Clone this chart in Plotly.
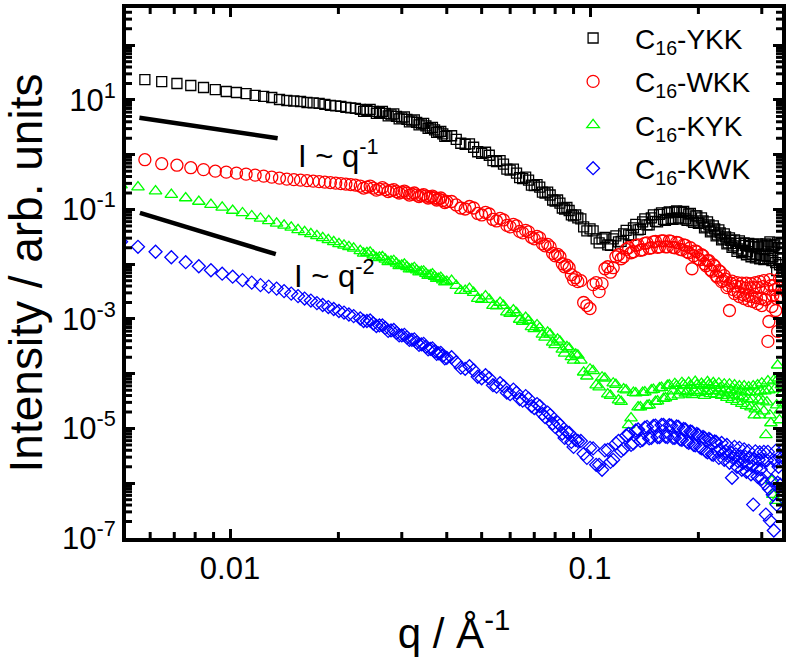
import plotly.graph_objects as go

# ---------------- data ----------------
q_low_a = [0.0058, 0.00646, 0.00712, 0.00778, 0.00844, 0.0091, 0.00976, 0.01042, 0.01108,
           0.01174, 0.0124, 0.01306, 0.01372, 0.01438, 0.01504, 0.0157, 0.01636, 0.01702,
           0.01768, 0.01834, 0.019, 0.01966, 0.02032, 0.02098, 0.02164, 0.0223]
q_low_b = [0.00498, 0.00555, 0.00621, 0.00687, 0.00753, 0.00819, 0.00885, 0.00951, 0.01017,
           0.01083, 0.01149, 0.01215, 0.01281, 0.01347, 0.01413, 0.01479, 0.01545, 0.01611,
           0.01677, 0.01743, 0.01809, 0.01875, 0.01941, 0.02007, 0.02073, 0.02139, 0.02205]
q_high = [0.023, 0.024, 0.025, 0.026, 0.027, 0.028, 0.029, 0.030, 0.031, 0.032, 0.033, 0.034,
          0.035, 0.036, 0.037, 0.038, 0.039, 0.040,
          0.0425, 0.045, 0.0475, 0.050, 0.0525, 0.055, 0.0575, 0.060, 0.0625, 0.065, 0.0675,
          0.070, 0.0725, 0.075, 0.0775, 0.080, 0.0825, 0.085, 0.0875, 0.090, 0.0925,
          0.096, 0.100, 0.104, 0.108, 0.112, 0.116, 0.120, 0.124, 0.128, 0.132, 0.136, 0.140,
          0.144, 0.148, 0.152, 0.156, 0.160, 0.164, 0.168, 0.172, 0.176, 0.180, 0.184, 0.188,
          0.192, 0.196, 0.200, 0.204, 0.208, 0.212, 0.216, 0.220, 0.224, 0.228, 0.232, 0.236,
          0.240, 0.244, 0.248, 0.252, 0.256, 0.260, 0.264, 0.268, 0.272, 0.276, 0.280, 0.284,
          0.288, 0.292, 0.296, 0.300, 0.304, 0.308, 0.312, 0.316, 0.320, 0.324, 0.328, 0.332,
          0.336, 0.340, 0.344]
q_extra = [0.0235, 0.0245, 0.0255, 0.0265, 0.0275, 0.0285, 0.0295, 0.0305, 0.0315, 0.0325,
           0.0335, 0.0345, 0.0355, 0.0365, 0.0375, 0.0385, 0.0395,
           0.04125, 0.04375, 0.04625, 0.04875, 0.05125, 0.05375, 0.05625, 0.05875, 0.06125,
           0.06375, 0.06625, 0.06875, 0.07125, 0.07375, 0.07625, 0.07875, 0.08125, 0.08375,
           0.08625, 0.08875, 0.09125,
           0.0943, 0.098, 0.102, 0.106, 0.110, 0.114, 0.118, 0.122, 0.126, 0.130, 0.134, 0.138,
           0.142, 0.146, 0.150, 0.154, 0.158, 0.162, 0.166, 0.170, 0.174, 0.178, 0.182, 0.186,
           0.190, 0.194, 0.198, 0.202, 0.206, 0.210, 0.214, 0.218, 0.222, 0.226, 0.230, 0.234,
           0.238, 0.242, 0.246, 0.250, 0.254, 0.258, 0.262, 0.266, 0.270, 0.274, 0.278, 0.282,
           0.286, 0.290, 0.294, 0.298, 0.302, 0.306, 0.310, 0.314, 0.318, 0.322, 0.326, 0.330,
           0.334, 0.338, 0.342]

I_ykk = [23.6, 21.7, 20.0, 18.4, 16.9, 15.5, 14.3, 13.7, 13.1, 12.1, 11.6, 11.1, 10.2, 9.79,
         9.59, 9.39, 9.0, 8.82, 8.64, 8.28, 7.94, 7.78, 7.62, 7.31, 7.15, 7.0,
         6.72, 6.44, 6.18, 5.93, 5.68, 5.34, 5.01, 4.71, 4.42, 4.15, 3.90, 3.66, 3.37, 3.10,
         2.85, 2.62, 2.41, 2.22,
         1.91, 1.55, 1.37, 1.065, 0.979, 0.746, 0.672, 0.523, 0.461, 0.366, 0.344, 0.273,
         0.257, 0.200, 0.184, 0.143, 0.131, 0.102, 0.0959, 0.0762, 0.070,
         0.0481, 0.0442, 0.0291, 0.0291, 0.0226, 0.0291, 0.0257, 0.0359, 0.0344, 0.0461,
         0.0424, 0.0593, 0.0523, 0.0700, 0.0605, 0.0811, 0.0658, 0.0864, 0.0686, 0.0900,
         0.0700, 0.0882, 0.0672, 0.0828, 0.0618, 0.0762, 0.0557, 0.0700, 0.0461, 0.0593,
         0.0390, 0.0501, 0.0330, 0.0424, 0.0279, 0.0359, 0.0236, 0.0303, 0.0204, 0.0279,
         0.0172, 0.0268, 0.0162, 0.0246, 0.0149, 0.0241, 0.0137, 0.0231, 0.0131, 0.0236,
         0.0126, 0.0226, 0.0121, 0.0236, 0.0126, 0.0257, 0.0116, 0.0217, 0.0107, 0.0246,
         0.00979, 0.0200, 0.00762]
I_ykk_extra = [6.18, 6.72, 5.68, 6.18, 5.12, 5.57, 4.51, 4.91, 3.98, 4.33, 3.51, 3.74, 3.03,
               3.16, 2.57, 2.68, 2.17,
               2.22, 1.62, 1.585, 1.134, 1.11, 0.778, 0.778, 0.545, 0.545, 0.382, 0.390, 0.279,
               0.285, 0.208, 0.208, 0.149, 0.149, 0.1065, 0.1087, 0.0794, 0.0794,
               0.0672, 0.0407, 0.0407, 0.0246, 0.0310, 0.0222, 0.0330, 0.0262, 0.0415, 0.0337,
               0.0534, 0.0433, 0.0672, 0.0523, 0.0794, 0.0593, 0.0864, 0.0631, 0.0900, 0.0658,
               0.0939, 0.0672, 0.0920, 0.0631, 0.0846, 0.0580, 0.0762,
               0.0568, 0.0618, 0.0481, 0.0523, 0.0407, 0.0442, 0.0344, 0.0374, 0.0291, 0.0316,
               0.0246, 0.0273, 0.0217, 0.0241, 0.0191, 0.0241, 0.0180, 0.0222, 0.0169, 0.0213,
               0.0155, 0.0208, 0.0149, 0.0208, 0.0143, 0.0217, 0.0143, 0.0217, 0.0137, 0.0226,
               0.0137, 0.0226, 0.00762, 0.0200, 0.0126, 0.0191]

I_wkk = [0.811, 0.686, 0.644, 0.580, 0.534, 0.501, 0.481, 0.461, 0.442, 0.424, 0.407, 0.390,
         0.374, 0.359, 0.351, 0.344, 0.337, 0.330, 0.323, 0.316, 0.310, 0.303, 0.297, 0.291,
         0.285, 0.279,
         0.268, 0.257, 0.246, 0.236, 0.231, 0.222, 0.2125, 0.208, 0.200, 0.191, 0.1835, 0.180,
         0.176, 0.169, 0.162, 0.155, 0.146, 0.140,
         0.121, 0.102, 0.1065, 0.0794, 0.0828, 0.0618, 0.0644, 0.0481, 0.0501, 0.0374, 0.0390,
         0.0291, 0.0303, 0.0217, 0.0208, 0.0143, 0.0137, 0.0090, 0.00864, 0.00523, 0.00481,
         0.00200, 0.00155, 0.00461, 0.00442, 0.0090, 0.00864, 0.0149, 0.0137, 0.0200, 0.0169,
         0.0226, 0.0184, 0.0246, 0.0200, 0.0262, 0.0208, 0.0268, 0.0208, 0.0262, 0.0200,
         0.0246, 0.0184, 0.0222, 0.0162, 0.00828, 0.0176, 0.0126, 0.0149, 0.0102, 0.0116,
         0.00794, 0.00979, 0.00618, 0.00762, 0.00481, 0.00618, 0.00374, 0.00143, 0.00491, 0.00291,
         0.00461, 0.00257, 0.00451, 0.00236, 0.00451, 0.00217, 0.00442, 0.00208, 0.00461, 0.00191,
         0.00481, 0.00176, 0.00501, 0.00226, 0.000390, 0.00523, 0.00169, 0.00407, 0.00143,
         0.000593, 0.00545, 0.00268, 0.00762]
I_wkk_extra = [0.246, 0.268, 0.226, 0.251, 0.2125, 0.231, 0.200, 0.217, 0.1835, 0.200, 0.172,
               0.187, 0.162, 0.176, 0.149, 0.162, 0.134,
               0.140, 0.1065, 0.1134, 0.0846, 0.0882, 0.0658, 0.0686, 0.0512, 0.0534, 0.0398,
               0.0415, 0.0310, 0.0323, 0.0236, 0.0231, 0.01585, 0.0152, 0.0102, 0.00959,
               0.00644, 0.00568,
               0.00501, 0.00176, 0.00424, 0.00316, 0.00828, 0.00715, 0.0137, 0.0126, 0.0187,
               0.0162, 0.0222, 0.0180, 0.0241, 0.0195, 0.0257, 0.0204, 0.0268, 0.0208, 0.0268,
               0.0204, 0.0251, 0.0187, 0.0226, 0.0169, 0.0200, 0.0143, 0.0169, 0.0121, 0.0143,
               0.00939, 0.0116, 0.00746, 0.00920, 0.00580, 0.00731,
               0.00501, 0.00534, 0.00407, 0.00451, 0.00344, 0.00398, 0.00310, 0.00390, 0.00279,
               0.00366, 0.00268, 0.00374, 0.00257, 0.00374, 0.00246, 0.00374, 0.00236, 0.00390,
               0.00226, 0.00359, 0.00090, 0.00407, 0.00268, 0.00344, 0.00236, 0.00374, 0.00257,
               0.00390]

I_kyk = [0.279, 0.257, 0.217, 0.187, 0.162, 0.140, 0.123, 0.109, 0.0959, 0.0864, 0.0762, 0.0686,
         0.0618, 0.0557, 0.0512, 0.0471, 0.0424, 0.0390, 0.0359, 0.0330, 0.0303, 0.0279, 0.0257,
         0.0236, 0.0222, 0.0208, 0.0195,
         0.0176, 0.0162, 0.0146, 0.0134, 0.0123, 0.0113, 0.0104, 0.00959, 0.0090, 0.00828,
         0.00778, 0.00731, 0.00672, 0.00631, 0.00593, 0.00545, 0.00512, 0.00481,
         0.00407, 0.00330, 0.00303, 0.00226, 0.00226, 0.00172, 0.00176, 0.00126, 0.00129,
         0.00090, 0.000939, 0.000658, 0.000686, 0.000461, 0.000523, 0.000337, 0.000390,
         0.000236, 0.000291, 0.000176, 0.000217,
         1.065e-4, 1.21e-4, 6.18e-5, 8.64e-5, 4.24e-5, 6.72e-5, 3.30e-5, 5.23e-5, 1.16e-5, 4.51e-5,
         2.46e-5, 4.51e-5, 2.62e-5, 5.01e-5, 3.10e-5, 5.45e-5, 3.51e-5, 6.05e-5, 3.82e-5, 6.58e-5,
         4.07e-5, 6.86e-5, 4.4e-5, 6.9e-5, 4.1e-5, 7.2e-5, 4.5e-5, 6.6e-5, 4.0e-5, 7.1e-5,
         4.3e-5, 6.8e-5, 4.15e-5, 6.72e-5, 3.98e-5, 6.44e-5, 3.66e-5, 6.44e-5, 3.37e-5, 6.18e-5,
         3.10e-5, 5.93e-5, 2.85e-5, 5.93e-5, 2.62e-5, 5.68e-5, 2.46e-5, 5.93e-5, 2.26e-5, 6.18e-5,
         1.76e-5, 6.72e-5, 2.08e-5, 7.62e-6, 7.31e-5, 1.76e-5, 1.11e-6, 7.62e-5, 4.81e-7, 1.43e-4,
         1.43e-5, 6.18e-5, 2.91e-5]
I_kyk_extra = [0.01585, 0.01653, 0.0131, 0.0137, 0.0111, 0.0116, 0.00939, 0.0100, 0.00811,
               0.00864, 0.00715, 0.00746, 0.00618, 0.00658, 0.00545, 0.00568, 0.00471,
               0.00501, 0.00330, 0.00359, 0.00236, 0.00262, 0.00176, 0.00200, 0.00134, 0.00146,
               0.000979, 0.001065, 0.000715, 0.000778, 0.000523, 0.000568, 0.000374, 0.000424,
               0.000279, 0.000310, 0.000204, 0.000226,
               1.76e-4, 9.0e-5, 1.13e-4, 5.68e-5, 8.28e-5, 3.98e-5, 6.31e-5, 3.10e-5, 5.01e-5,
               1.55e-5, 4.42e-5, 2.46e-5, 4.61e-5, 2.68e-5, 5.12e-5, 3.16e-5, 5.57e-5, 3.59e-5,
               6.2e-5, 4.8e-5, 6.0e-5, 4.9e-5, 6.3e-5, 4.7e-5, 6.1e-5, 4.9e-5, 6.2e-5, 4.8e-5,
               6.0e-5, 4.7e-5, 6.3e-5, 4.9e-5, 6.1e-5,
               4.81e-5, 5.45e-5, 4.61e-5, 5.23e-5, 4.42e-5, 5.01e-5, 4.07e-5, 5.01e-5, 3.90e-5,
               4.81e-5, 3.74e-5, 4.61e-5, 3.44e-5, 4.61e-5, 3.44e-5, 1.76e-5, 4.61e-5, 3.30e-5,
               4.81e-5, 3.16e-5, 4.81e-5, 3.03e-5, 5.01e-5, 1.26e-5, 6.18e-7, 5.23e-5, 2.68e-5,
               8.28e-5, 2.17e-5, 4.42e-5]

I_kwk = [0.0257, 0.0208, 0.0169, 0.0134, 0.0109, 0.00920, 0.00778, 0.00672, 0.00593, 0.00512,
         0.00461, 0.00415, 0.00390, 0.00359, 0.00323, 0.00291, 0.00262, 0.00236, 0.00217,
         0.00195, 0.00180, 0.00165, 0.00152, 0.00140, 0.00131, 0.00121, 0.00113,
         0.00102, 9.20e-4, 8.28e-4, 7.62e-4, 6.86e-4, 6.18e-4, 5.57e-4, 5.01e-4, 4.61e-4,
         4.15e-4, 3.74e-4, 3.44e-4, 3.10e-4, 2.85e-4, 2.57e-4, 2.36e-4, 2.13e-4, 1.95e-4,
         1.62e-4, 1.23e-4, 1.16e-4, 8.28e-5, 8.28e-5, 5.80e-5, 5.93e-5, 4.24e-5, 4.51e-5,
         3.23e-5, 3.51e-5, 2.36e-5, 2.57e-5, 1.62e-5, 1.76e-5, 1.07e-5, 1.16e-5, 6.72e-6,
         8.28e-6, 4.61e-6, 5.93e-6,
         3.44e-6, 4.42e-6, 2.17e-6, 1.76e-6, 4.07e-6, 2.68e-6, 5.93e-6, 4.24e-6, 7.94e-6, 5.34e-6,
         9.59e-6, 6.18e-6, 1.07e-5, 6.72e-6, 1.13e-5, 7.0e-6, 1.16e-5, 7.0e-6, 1.13e-5, 6.72e-6,
         1.07e-5, 6.18e-6, 9.59e-6, 5.45e-6, 8.64e-6, 4.91e-6, 7.62e-6, 4.33e-6, 6.72e-6, 3.66e-6,
         6.18e-6, 3.30e-6, 5.68e-6, 2.91e-6, 5.45e-6, 2.68e-6, 5.01e-6, 2.36e-6, 1.26e-6, 4.61e-6,
         2.0e-6, 4.42e-6, 1.76e-6, 4.15e-6, 1.62e-6, 3.90e-6, 1.46e-6, 4.07e-7, 3.82e-6, 1.31e-6,
         3.66e-6, 1.21e-6, 3.74e-6, 2.68e-7, 3.74e-6, 2.08e-7, 1.11e-6, 1.37e-7, 3.90e-6, 1.02e-6,
         3.03e-6, 7.62e-7, 4.07e-6]
I_kwk_extra = [9.20e-4, 9.39e-4, 7.46e-4, 7.62e-4, 6.05e-4, 6.31e-4, 5.01e-4, 5.12e-4, 4.15e-4,
               4.24e-4, 3.37e-4, 3.51e-4, 2.79e-4, 2.91e-4, 2.31e-4, 2.41e-4, 1.91e-4,
               2.0e-4, 1.29e-4, 1.37e-4, 8.82e-5, 9.39e-5, 6.18e-5, 6.72e-5, 4.51e-5, 5.12e-5,
               3.44e-5, 3.90e-5, 2.57e-5, 2.79e-5, 1.84e-5, 1.95e-5, 1.23e-5, 1.29e-5, 8.11e-6,
               8.64e-6, 5.68e-6, 6.18e-6,
               5.93e-6, 2.91e-6, 4.33e-6, 2.17e-6, 3.98e-6, 2.46e-6, 5.34e-6, 3.90e-6, 7.46e-6,
               5.01e-6, 9.20e-6, 5.93e-6, 1.04e-5, 6.58e-6, 1.11e-5, 7.0e-6, 1.16e-5, 7.1e-6,
               1.15e-5, 6.72e-6, 1.09e-5, 6.31e-6, 9.79e-6, 5.68e-6, 8.82e-6, 5.01e-6, 7.94e-6,
               4.51e-6, 7.0e-6, 3.82e-6, 6.44e-6, 3.37e-6, 5.80e-6,
               3.82e-6, 4.15e-6, 3.51e-6, 3.82e-6, 3.10e-6, 3.66e-6, 2.85e-6, 3.37e-6, 2.51e-6,
               3.10e-6, 2.36e-6, 3.03e-6, 2.13e-6, 2.91e-6, 2.04e-6, 2.79e-6, 1.87e-6, 2.68e-6,
               1.80e-6, 2.68e-6, 9.79e-7, 2.62e-6, 7.94e-7, 1.91e-6, 6.18e-7, 2.57e-6, 4.07e-7,
               2.0e-6, 9.39e-7, 2.57e-6]

series_names = ["C<sub>16</sub>-YKK", "C<sub>16</sub>-WKK", "C<sub>16</sub>-KYK", "C<sub>16</sub>-KWK"]
series_colors = ["#000000", "#ff0000", "#00ff00", "#0000ff"]
series_symbols = ["square-open", "circle-open", "triangle-up-open", "diamond-open"]
series_sizes = [10, 12, 11, 10]

# power-law guide lines (I ~ q^-1 and I ~ q^-2)
guide1_q = [0.0056, 0.01356]
guide1_I = [4.75, 2.0]
guide2_q = [0.00562, 0.0134]
guide2_I = [0.0864, 0.0153]
guide_labels = ["I ~ q<sup>-1</sup>", "I ~ q<sup>-2</sup>"]

x_tickvals = [0.01, 0.1]
x_ticktext = ["0.01", "0.1"]
x_minor = [0.006, 0.007, 0.008, 0.009, 0.02, 0.03, 0.04, 0.05, 0.06, 0.07, 0.08, 0.09, 0.2, 0.3]
y_tickvals = [1e-7, 1e-6, 1e-5, 1e-4, 1e-3, 1e-2, 1e-1, 1, 10, 100]
y_ticktext = ["10<sup>-7</sup>", "", "10<sup>-5</sup>", "", "10<sup>-3</sup>", "",
              "10<sup>-1</sup>", "", "10<sup>1</sup>", ""]
y_minor = [m * 10.0 ** e for e in range(-7, 3) for m in range(2, 10) if m * 10.0 ** e < 470]

FONT = "Liberation Sans, Arial, sans-serif"
X_RANGE = [-2.289, -0.4667]
Y_RANGE = [-7, 2.68]
MARGIN = dict(l=126, r=10, t=8, b=122)
W, H = 792, 660
MINOR_LEN_PX = 6

q_all = [q_low_a + q_high + q_extra, q_low_a + q_high + q_extra,
         q_low_b + q_high + q_extra, q_low_b + q_high + q_extra]
I_all = [I_ykk + I_ykk_extra, I_wkk + I_wkk_extra, I_kyk + I_kyk_extra, I_kwk + I_kwk_extra]

fig = go.Figure()
for i in range(4):
    fig.add_trace(go.Scatter(
        x=q_all[i], y=I_all[i], mode="markers", name=series_names[i],
        legendgroup=str(i),
        marker=dict(symbol=series_symbols[i], size=series_sizes[i],
                    color=series_colors[i], line=dict(width=1.3, color=series_colors[i])),
    ))

for gq, gi in [(guide1_q, guide1_I), (guide2_q, guide2_I)]:
    fig.add_trace(go.Scatter(x=gq, y=gi, mode="lines", showlegend=False,
                             line=dict(color="black", width=4.5), hoverinfo="skip"))

# minor tick marks on all four sides (inside), built from the minor tick value lists
plot_w = W - MARGIN["l"] - MARGIN["r"]
plot_h = H - MARGIN["t"] - MARGIN["b"]
dx = MINOR_LEN_PX * (X_RANGE[1] - X_RANGE[0]) / plot_w   # tick length in decades (x)
dy = MINOR_LEN_PX * (Y_RANGE[1] - Y_RANGE[0]) / plot_h   # tick length in decades (y)
tx, ty = [], []
for v in x_minor:
    tx += [v, v, None, v, v, None]
    ty += [10 ** Y_RANGE[0], 10 ** (Y_RANGE[0] + dy), None,
           10 ** Y_RANGE[1], 10 ** (Y_RANGE[1] - dy), None]
for v in y_minor:
    tx += [10 ** X_RANGE[0], 10 ** (X_RANGE[0] + dx), None,
           10 ** X_RANGE[1], 10 ** (X_RANGE[1] - dx), None]
    ty += [v, v, None, v, v, None]
fig.add_trace(go.Scatter(x=tx, y=ty, mode="lines", showlegend=False, hoverinfo="skip",
                         connectgaps=False, line=dict(color="black", width=3)))

axis_common = dict(
    type="log", showgrid=False, zeroline=False, showline=True, linewidth=4, linecolor="black",
    mirror="allticks", ticks="inside", ticklen=9, tickwidth=3, tickcolor="black",
    tickmode="array", automargin=False,
)

fig.update_layout(
    template="none",
    width=W, height=H,
    margin=MARGIN,
    plot_bgcolor="white", paper_bgcolor="white",
    font=dict(family=FONT, color="black"),
    xaxis=dict(**axis_common, range=X_RANGE,
               tickvals=x_tickvals, ticktext=x_ticktext,
               tickfont=dict(size=31, family=FONT),
               title=dict(text="q / Å<sup>-1</sup>", font=dict(size=42, family=FONT), standoff=34)),
    yaxis=dict(**axis_common, range=Y_RANGE,
               tickvals=y_tickvals, ticktext=y_ticktext,
               tickfont=dict(size=31, family=FONT),
               title=dict(text="Intensity / arb. units", font=dict(size=46, family=FONT), standoff=23)),
    legend=dict(x=0.648, y=0.99, xanchor="left", yanchor="top", bgcolor="rgba(0,0,0,0)",
                font=dict(size=28, family=FONT), tracegroupgap=4, itemwidth=74),
    showlegend=True,
)

ann_pos = [(0.259, 0.7247), (0.253, 0.498)]
for (ax_, ay_), txt in zip(ann_pos, guide_labels):
    fig.add_annotation(x=ax_, y=ay_, xref="paper", yref="paper", text=txt, showarrow=False,
                       xanchor="left", yanchor="middle", font=dict(size=31, family=FONT, color="black"))

fig.write_html("out.html")
